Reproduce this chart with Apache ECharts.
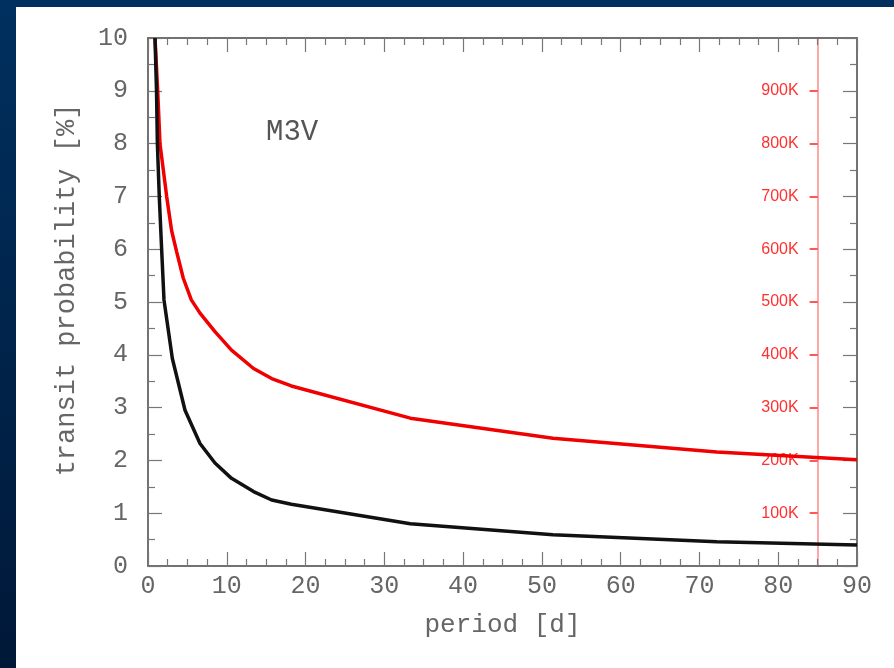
<!DOCTYPE html>
<html>
<head>
<meta charset="utf-8">
<script src="https://cdn.jsdelivr.net/npm/echarts@6/dist/echarts.min.js"></script>
<style>
html,body{margin:0;padding:0;background:#002a58;}
#chart{width:894px;height:668px;}
</style>
</head>
<body>
<div id="chart"></div>
<script>
// Data
const periodBlack = [0.89, 1.08, 1.19, 1.43, 1.73, 2.03, 3.09, 4.7, 6.6, 8.5, 10.6, 13.4, 15.7, 18.2, 33.3, 51.4, 72.2, 90];
const probBlack   = [10, 9, 8, 7, 6, 5.04, 3.93, 2.95, 2.32, 1.95, 1.66, 1.41, 1.25, 1.17, 0.80, 0.59, 0.46, 0.40];
const periodRed = [0.89, 1.23, 1.52, 2.37, 3.0, 3.64, 4.48, 5.5, 6.6, 8.5, 10.6, 13.4, 15.7, 18.2, 33.3, 51.4, 72.2, 90];
const probRed   = [10, 9, 8, 7, 6.35, 5.95, 5.45, 5.04, 4.79, 4.44, 4.09, 3.74, 3.55, 3.41, 2.80, 2.42, 2.16, 2.01];
const redAxisTicks = [100, 200, 300, 400, 500, 600, 700, 800, 900]; // in K
const markerPeriod = 85;
const starLabel = 'M3V';

const mono = '"Liberation Mono", "DejaVu Sans Mono", monospace';
const axisGray = '#444';
const labelGray = '#666';

const chart = echarts.init(document.getElementById('chart'), null, {renderer: 'canvas'});

const baseX = {
  type: 'value', min: 0, max: 90, interval: 10,
  splitLine: {show: false},
  axisLine: {show: true, onZero: false, lineStyle: {color: axisGray, width: 1.5}},
  axisTick: {show: true, inside: true, length: 14, lineStyle: {color: '#777', width: 1.2}},
  minorTick: {show: true, splitNumber: 4, length: 7, lineStyle: {color: '#777', width: 1.2}},
};
const baseY = {
  type: 'value', min: 0, max: 10, interval: 1,
  splitLine: {show: false},
  axisLine: {show: true, onZero: false, lineStyle: {color: axisGray, width: 1.5}},
  axisTick: {show: true, inside: true, length: 14, lineStyle: {color: '#777', width: 1.2}},
  minorTick: {show: true, splitNumber: 2, length: 7, lineStyle: {color: '#777', width: 1.2}},
};

const option = {
  backgroundColor: {
    type: 'linear', x: 0, y: 0, x2: 0, y2: 1,
    colorStops: [{offset: 0, color: '#00305f'}, {offset: 1, color: '#001838'}]
  },
  animation: false,
  graphic: [
    {type: 'rect', left: 16, top: 7, z: -10, shape: {width: 878, height: 661}, style: {fill: '#ffffff'}},
    {type: 'text', left: 266, top: 118, z: 10, style: {text: starLabel, font: '29px ' + mono, fill: '#555'}}
  ],
  grid: {left: 148, top: 38, right: 37, bottom: 102, containLabel: false, outerBoundsMode: 'none'},
  xAxis: [
    Object.assign({}, baseX, {
      position: 'bottom',
      name: 'period [d]', nameLocation: 'middle', nameGap: 46,
      nameTextStyle: {fontFamily: mono, fontSize: 26, color: labelGray},
      axisLabel: {show: true, margin: 8, fontFamily: mono, fontSize: 25, color: labelGray}
    }),
    Object.assign({}, baseX, {position: 'top', axisLabel: {show: false}})
  ],
  yAxis: [
    Object.assign({}, baseY, {
      position: 'left',
      name: 'transit probability [%]', nameLocation: 'middle', nameGap: 68, nameRotate: 90,
      nameTextStyle: {fontFamily: mono, fontSize: 27, color: labelGray, padding: [0, 0, 0, 24]},
      axisLabel: {show: true, margin: 20, fontFamily: mono, fontSize: 25, color: labelGray}
    }),
    Object.assign({}, baseY, {position: 'right', axisLabel: {show: false}}),
    {
      type: 'value', min: 0, max: 1000, position: 'right',
      offset: -(37 + (894 - 148 - 37) * (90 - markerPeriod) / 90) + 37,
      splitLine: {show: false},
      axisLine: {show: true, onZero: false, lineStyle: {color: '#ff8a8a', width: 1.5}},
      axisTick: {show: true, inside: true, length: 8, customValues: redAxisTicks, lineStyle: {color: '#ff2020', width: 1.5}},
      minorTick: {show: false},
      axisLabel: {
        show: true, inside: true, margin: 19, customValues: redAxisTicks,
        fontFamily: '"Liberation Sans", Arial, sans-serif', fontSize: 16, color: '#ff3030',
        formatter: v => v + 'K'
      }
    }
  ],
  series: [
    {
      type: 'line', xAxisIndex: 0, yAxisIndex: 0, showSymbol: false, z: 3,
      data: periodRed.map((p, i) => [p, probRed[i]]),
      lineStyle: {color: '#f00000', width: 3.5}
    },
    {
      type: 'line', xAxisIndex: 0, yAxisIndex: 0, showSymbol: false, z: 4,
      data: periodBlack.map((p, i) => [p, probBlack[i]]),
      lineStyle: {color: '#111111', width: 3.5}
    }
  ]
};
chart.setOption(option);
</script>
</body>
</html>
